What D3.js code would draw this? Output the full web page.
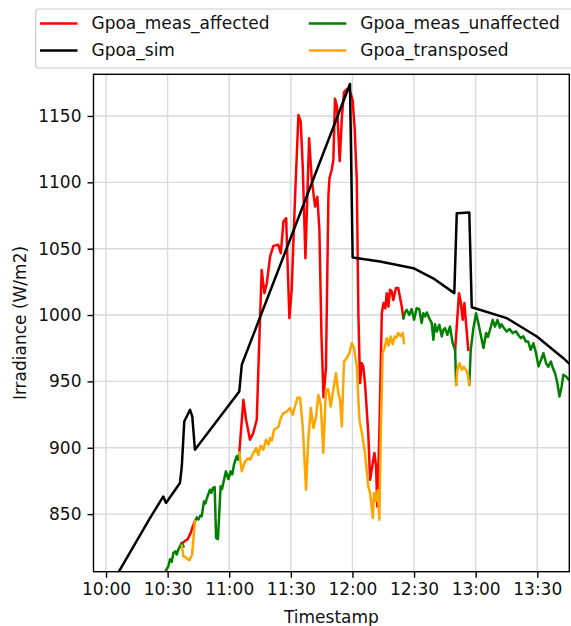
<!DOCTYPE html>
<html>
<head>
<meta charset="utf-8">
<script src="https://cdnjs.cloudflare.com/ajax/libs/d3/7.8.5/d3.min.js"></script>
<style>
  body { margin: 0; background: #fff; }
  svg { display: block; font-family: "DejaVu Sans", sans-serif; }
</style>
</head>
<body>
<div class="chart"></div>
<script>
// minutes after 10:00 and irradiance values (W/m2)
const simMinutes = [0, 21.4, 27.9, 29.2, 36.0, 36.9, 38.1, 40.9, 42.0, 43.3, 64.9, 66.1, 118.8, 120.1, 133.4, 149.7, 160.0, 169.6, 170.8, 176.9, 178.1, 195.1, 209.8, 222.7, 230];
const simValues  = [790, 847, 863.3, 858.4, 873.4, 885.9, 919.8, 928.6, 923.6, 898.5, 942.4, 962.5, 1174.1, 1043.3, 1040.3, 1035.3, 1027, 1016.5, 1076.7, 1077.2, 1005.9, 997.7, 983.8, 967.5, 957];

const affMinutes = [36.9, 37.7, 38.6, 39.6, 41.2, 42.3, 43.3, 50,
  64.9, 66.9, 68.2, 70.1, 71.7, 73.4, 74.2, 75.8, 77.1, 78.3, 79.9, 81.5, 83.9, 85.1, 86.4, 87.7, 89.3, 90.4, 92.0, 93.7, 94.8, 95.8, 97.1, 98.9, 100.2, 101.8, 102.9, 103.9, 104.9, 105.9, 107.1, 108.3, 108.8, 109.9, 110.7, 111.5, 112.5, 113.8, 114.9, 115.9, 117.2, 118.3, 119.3, 120.1, 121.1, 122.1, 122.9, 123.7, 124.5, 125.3, 126.1, 127.7, 128.6, 129.9, 130.7, 131.5, 132.1, 133.1, 134.3, 135.1, 136.0, 136.7, 137.5, 138.3, 139.1, 139.9, 141.2, 142.3, 144.0, 144.8, 150,
  170.0, 171.9, 172.8, 173.7, 174.5, 175.3, 176.4];
const affValues  = [828.2, 828.7, 830, 830.7, 835.7, 841, 844.5, null,
  896.5, 936.1, 921.1, 906.0, 911.1, 921.1, 960, 1034.0, 1016.5, 1024.0, 1044.1, 1052.1, 1052.9, 1046.6, 1070.4, 1073.0, 997.7, 1019.0, 1086.7, 1150.8, 1145.7, 1111.8, 1042.8, 1133.2, 1101.8, 1081.7, 1089.2, 1064.2, 985, 938, 960, 1090, 1103.1, 1109.3, 1116.9, 1163, 1157, 1116, 1150, 1168, 1170, 1171, 1166, 1162, 1140, 1102, 1000, 948.7, 963.8, 961, 948.7, 911.1, 875.9, 888.5, 896.0, 885.9, 855.8, 911.1, 1001.4, 1009.0, 1005, 1016.5, 1006.4, 1019.0, 1018, 1011.4, 1020.3, 1020.3, 1006.4, 997.7, null,
  973.8, 1016.5, 1009, 996.4, 1009, 993.9, 973.8];

const unaffMinutes = [27.0, 28.7, 30.4, 31.2, 32.0, 32.8, 33.8, 34.4, 35.2, 36.0, 36.9, 37.7, 40,
  43.3, 44.2, 45.0, 46.0, 46.6, 47.7, 48.4, 49.0, 50.6, 51.3, 52.0, 52.9, 53.6, 54.5, 55.8, 56.5, 57.1, 58.4, 59.6, 60.7, 61.5, 62.3, 63.6, 64.3, 64.9, 100,
  144.8, 145.6, 146.4, 147.7, 148.8, 150.0, 151.3, 152.5, 153.7, 154.5, 155.4, 156.2, 157.4, 158.6, 159.4, 160.2, 161.1, 162.3, 163.5, 164.3, 165.1, 166.2, 167.5, 168.8, 170.0, 170.5, 173,
  176.9, 177.6, 178.9, 180.2, 181.3, 182.5, 183.8, 185.1, 186.0, 187.0, 188.3, 189.4, 190.6, 191.8, 192.6, 193.8, 195.1, 196.5, 198.0, 199.6, 200.8, 201.9, 203.2, 204.5, 205.6, 206.8, 208.1, 209.4, 210.6, 211.8, 213.0, 214.3, 215.4, 216.6, 217.6, 218.7, 219.8, 220.8, 221.9, 222.7, 224.0, 225.2, 226.5, 228];
const unaffValues  = [800, 806, 811, 816, 814, 820.7, 822, 819.5, 823.2, 825.7, 828.2, 825.7, null,
  844.5, 847.5, 846, 849, 848.3, 859.6, 858, 861.4, 868.4, 866, 869.6, 870.4, 832.0, 831.2, 870.9, 869, 873.4, 882.2, 876.4, 882.2, 880, 887.2, 893.5, 891, 896.5, null,
  997.7, 1002, 1003.9, 1000.1, 1004.5, 996.4, 1005.2, 1004.5, 993.9, 1001.4, 999, 1001.9, 997.5, 993.9, 981.3, 993, 987.6, 992.6, 983.8, 989, 990.1, 985.1, 991.3, 978.8, 973.8, 947.4, null,
  947.4, 973.8, 990.1, 1001.4, 993.9, 985, 975.1, 986.4, 983.5, 988.9, 996.4, 991.3, 996.4, 990.5, 993, 990.1, 987.6, 989.5, 986.4, 987.8, 985, 982.6, 984, 980.0, 980, 973.8, 978.8, 971.3, 961.3, 966, 971.3, 963.8, 961, 965, 960.0, 956.2, 948.7, 938.6, 946.2, 955.0, 953.7, 951.5, 952.5, 952];

const transMinutes = [36.9, 37.7, 38.5, 40.6, 41.9, 43.3, 50,
  64.9, 66.1, 67.7, 69.3, 70.2, 71.7, 73.1, 74.2, 75.3, 76.6, 77.9, 79.1, 79.9, 80.8, 81.8, 83.1, 84.0, 85.1, 86.4, 88.0, 89.6, 90.9, 92.0, 93.2, 94.5, 95.8, 97.4, 98.5, 99.7, 101.0, 102.3, 103.4, 104.6, 105.8, 107.1, 108.2, 109.4, 110.7, 112.0, 113.1, 114.0, 114.8, 115.9, 117.2, 118.5, 119.7, 120.8, 122.1, 123.4, 124.6, 126.1, 127.7, 128.6, 129.9, 130.5, 131.5, 132.3, 133.1, 133.8, 134.7, 135.6, 136.7, 137.6, 138.6, 139.6, 140.6, 141.4, 142.3, 143.4, 144.5, 145.1, 150,
  170.5, 171.1, 172.1, 173.3, 174.2, 175.3, 176.2, 176.9];
const transValues  = [826.2, 818.2, 817.7, 815.2, 819.4, 844.5, null,
  896.5, 882.2, 889.7, 892.2, 891, 896.0, 899.8, 894.7, 901.5, 898.5, 906.0, 902.3, 907.3, 905.5, 913.6, 914.8, 916, 922.4, 926.1, 927.3, 929.9, 924.9, 931.1, 937.6, 937.6, 916.0, 868.4, 906.0, 929.9, 914.8, 923.6, 939.9, 932.4, 896.0, 943.7, 944, 931.1, 943.7, 956.2, 941.2, 936, 916.0, 965.0, 967.5, 971.3, 978.8, 975.1, 961.3, 921.1, 911.1, 896.0, 870.9, 866, 847.0, 865.9, 860, 868, 845.8, 911.1, 971.3, 975, 982.6, 977, 983.8, 978, 983.8, 983, 986.4, 984, 986.4, 978.8, null,
  947.4, 958.7, 963.8, 958.7, 961, 958.7, 955, 947.4];

const yTicks = [850, 900, 950, 1000, 1050, 1100, 1150];

const seriesNames  = ["Gpoa_meas_affected", "Gpoa_sim", "Gpoa_meas_unaffected", "Gpoa_transposed"];
const seriesColors = ["red", "black", "green", "orange"];

// --- build series
const base = new Date(2019, 5, 1, 10, 0, 0);
const toDate = m => d3.timeSecond.offset(base, Math.round(m * 60));
const zipSeries = (ms, vs) => ms.map((m, i) => ({ date: toDate(m), value: vs[i] }));

const series = [
  zipSeries(affMinutes, affValues),
  zipSeries(simMinutes, simValues),
  zipSeries(unaffMinutes, unaffValues),
  zipSeries(transMinutes, transValues)
];

// --- layout
const width = 571, height = 626;
const plot = { left: 93.5, top: 74.3, right: 569.3, bottom: 571.7 };
const fontSize = 17;

const x = d3.scaleTime()
    .domain([toDate(-6.1), toDate(225.6)])
    .range([plot.left, plot.right]);

const y = d3.scaleLinear()
    .domain([806.6, 1181.4])
    .range([plot.bottom, plot.top]);

const svg = d3.select(".chart")
  .append("svg")
    .attr("width", width)
    .attr("height", height);

svg.append("defs").append("clipPath")
    .attr("id", "clip")
  .append("rect")
    .attr("x", plot.left)
    .attr("y", plot.top)
    .attr("width", plot.right - plot.left)
    .attr("height", plot.bottom - plot.top);

const xTicks = x.ticks(d3.timeMinute.every(30));

// grid
const grid = svg.append("g").attr("stroke", "#d9d9d9").attr("stroke-width", 1.4);
grid.selectAll(".vx")
  .data(xTicks)
  .enter().append("line")
    .attr("x1", d => x(d)).attr("x2", d => x(d))
    .attr("y1", plot.top).attr("y2", plot.bottom);
grid.selectAll(".hy")
  .data(yTicks)
  .enter().append("line")
    .attr("x1", plot.left).attr("x2", plot.right)
    .attr("y1", d => y(d)).attr("y2", d => y(d));

// lines
const line = d3.line()
    .defined(d => d.value != null)
    .x(d => x(d.date))
    .y(d => y(d.value));

svg.append("g")
    .attr("clip-path", "url(#clip)")
  .selectAll("path")
  .data(series)
  .enter().append("path")
    .attr("d", line)
    .attr("fill", "none")
    .attr("stroke", (d, i) => seriesColors[i])
    .attr("stroke-width", 2.5)
    .attr("stroke-linejoin", "round")
    .attr("stroke-linecap", "square");

// axes
const xAxis = svg.append("g")
    .attr("transform", `translate(0,${plot.bottom})`)
    .call(d3.axisBottom(x).tickValues(xTicks).tickFormat(d3.timeFormat("%H:%M")).tickSize(6).tickPadding(5));

const yAxis = svg.append("g")
    .attr("transform", `translate(${plot.left},0)`)
    .call(d3.axisLeft(y).tickValues(yTicks).tickFormat(d3.format("d")).tickSize(6).tickPadding(6));

[xAxis, yAxis].forEach(ax => {
  ax.select(".domain").remove();
  ax.selectAll("line").attr("stroke", "#000").attr("stroke-width", 1.4);
  ax.selectAll("text")
    .attr("fill", "#111")
    .style("font-family", "DejaVu Sans")
    .style("font-size", fontSize + "px");
});

// frame
svg.append("rect")
    .attr("x", plot.left)
    .attr("y", plot.top)
    .attr("width", plot.right - plot.left)
    .attr("height", plot.bottom - plot.top)
    .attr("fill", "none")
    .attr("stroke", "#000")
    .attr("stroke-width", 1.4);

// axis labels
svg.append("text")
    .attr("x", (plot.left + plot.right) / 2)
    .attr("y", 617)
    .attr("dy", "0.35em")
    .attr("text-anchor", "middle")
    .style("font-size", fontSize + "px")
    .attr("fill", "#111")
    .text("Timestamp");

svg.append("text")
    .attr("transform", `translate(20,${(plot.top + plot.bottom) / 2}) rotate(-90)`)
    .attr("dy", "0.35em")
    .attr("text-anchor", "middle")
    .style("font-size", fontSize + "px")
    .attr("fill", "#111")
    .text("Irradiance (W/m2)");

// legend (two columns, column-major order)
const legend = svg.append("g");
legend.append("rect")
    .attr("x", 35.7)
    .attr("y", 9)
    .attr("width", 560)
    .attr("height", 59)
    .attr("rx", 3)
    .attr("fill", "#fff")
    .attr("fill-opacity", 0.8)
    .attr("stroke", "#cccccc")
    .attr("stroke-width", 1.2);

const colX = [40, 308.8];
const rowY = [23.5, 50.5];
const items = legend.selectAll(".item")
  .data(seriesNames)
  .enter().append("g")
    .attr("transform", (d, i) => `translate(${colX[Math.floor(i / 2)]},${rowY[i % 2]})`);

items.append("line")
    .attr("x1", 0).attr("x2", 37.5)
    .attr("y1", 0).attr("y2", 0)
    .attr("stroke", (d, i) => seriesColors[i])
    .attr("stroke-width", 2.5);

items.append("text")
    .attr("x", 51.5)
    .attr("dy", "0.35em")
    .style("font-size", fontSize + "px")
    .attr("fill", "#111")
    .text(d => d);
</script>
</body>
</html>
